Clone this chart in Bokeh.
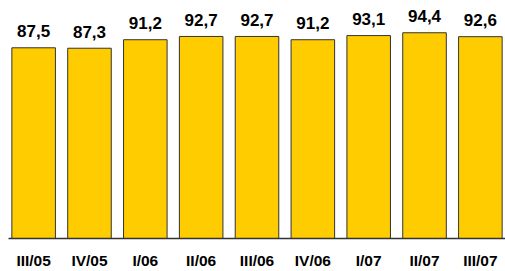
from bokeh.plotting import figure
from bokeh.models import ColumnDataSource, LabelSet, FactorRange, Range1d
from bokeh.core.properties import value
from bokeh.embed import file_html
from bokeh.resources import INLINE

categories = ["III/05", "IV/05", "I/06", "II/06", "III/06", "IV/06", "I/07", "II/07", "III/07"]
values = [87.5, 87.3, 91.2, 92.7, 92.7, 91.2, 93.1, 94.4, 92.6]
labels = ["87,5", "87,3", "91,2", "92,7", "92,7", "91,2", "93,1", "94,4", "92,6"]

src = ColumnDataSource(dict(cat=categories, val=values, lab=labels))

p = figure(width=505, height=271,
           x_range=FactorRange(*categories, range_padding=-0.05, range_padding_units="absolute"),
           y_range=Range1d(0, 109.2), output_backend="svg", toolbar_location=None,
           min_border_left=8, min_border_right=0, min_border_top=0, min_border_bottom=33)

p.vbar(x="cat", top="val", width=0.78, source=src, fill_color="#FFCC00",
       line_color="#333333", line_width=1)

lbl = LabelSet(x="cat", y="val", text="lab", source=src, text_align="center",
               text_baseline="alphabetic", y_offset=10.5, text_font=value("Liberation Sans"),
               text_font_style="bold", text_font_size="17px", text_color="#000000")
p.add_layout(lbl)

p.yaxis.visible = False
p.xgrid.visible = False
p.ygrid.visible = False
p.outline_line_color = None
p.xaxis.major_tick_line_color = None
p.xaxis.minor_tick_line_color = None
p.xaxis.major_tick_out = 0
p.xaxis.major_tick_in = 0
p.xaxis.minor_tick_out = 0
p.xaxis.axis_line_color = "#333333"
p.xaxis.axis_line_width = 1.5
p.xaxis.major_label_text_font = "Liberation Sans"
p.xaxis.major_label_text_font_style = "bold"
p.xaxis.major_label_text_font_size = "15.5px"
p.xaxis.major_label_text_color = "#000000"
p.xaxis.major_label_standoff = 13

open("out.html", "w").write(file_html(p, INLINE))
